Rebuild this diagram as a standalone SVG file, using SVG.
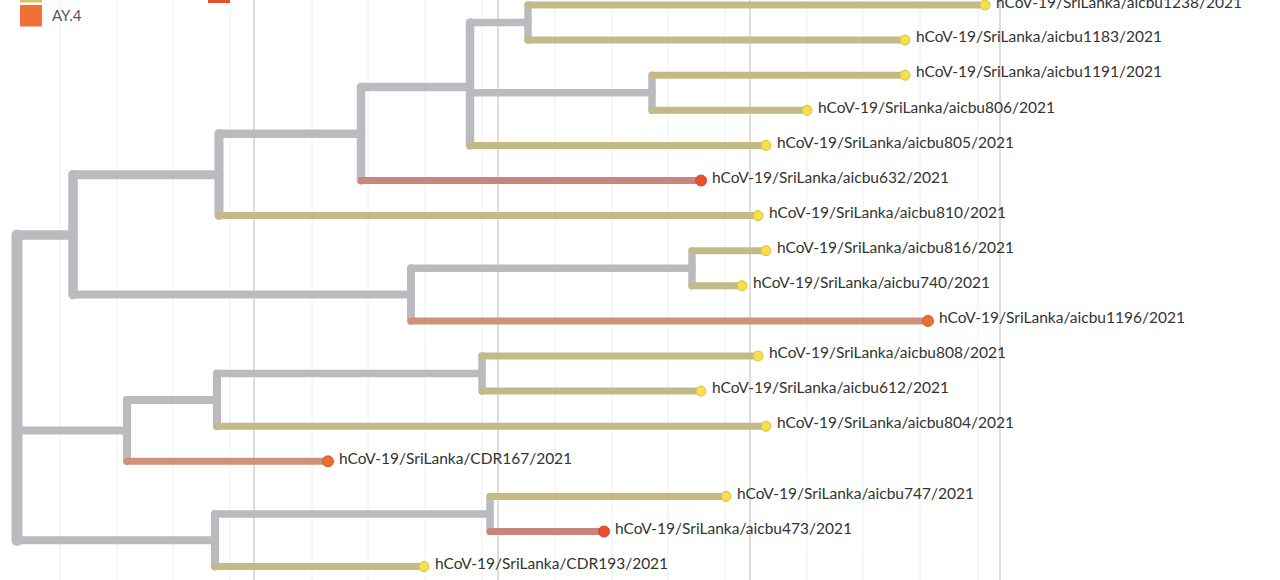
<svg xmlns="http://www.w3.org/2000/svg" width="1280" height="580" viewBox="0 0 1280 580">
<style>
.minor{stroke:#eeeeee;stroke-width:1}
.major{stroke:#dddddd;stroke-width:2}
.br{fill:none;stroke-linecap:round}
.g{stroke:#b9bbbe}
.y{stroke:#c4ba88;stroke-width:7}
.r{stroke:#c9857a;stroke-width:7}
.o{stroke:#cd9278;stroke-width:7}
.ty{fill:#f5df4d;stroke:#d8c13b;stroke-width:1}
.tr{fill:#e8502e;stroke:#cc4529;stroke-width:1}
.to{fill:#ec6d34;stroke:#d05e2c;stroke-width:1}
.lb{font-family:Lato,"Liberation Sans",sans-serif;font-size:15.5px;fill:#333333}
.lg{font-family:Lato,"Liberation Sans",sans-serif;font-size:15px;fill:#555555}
</style>
<rect width="1280" height="580" fill="#ffffff"/>
<g id="grid">
<line class="minor" x1="60" y1="0" x2="60" y2="580"/>
<line class="minor" x1="117" y1="0" x2="117" y2="580"/>
<line class="minor" x1="173" y1="0" x2="173" y2="580"/>
<line class="minor" x1="230" y1="0" x2="230" y2="580"/>
<line class="minor" x1="312" y1="0" x2="312" y2="580"/>
<line class="minor" x1="368" y1="0" x2="368" y2="580"/>
<line class="minor" x1="425" y1="0" x2="425" y2="580"/>
<line class="minor" x1="482" y1="0" x2="482" y2="580"/>
<line class="minor" x1="555" y1="0" x2="555" y2="580"/>
<line class="minor" x1="612" y1="0" x2="612" y2="580"/>
<line class="minor" x1="668" y1="0" x2="668" y2="580"/>
<line class="minor" x1="725" y1="0" x2="725" y2="580"/>
<line class="minor" x1="807" y1="0" x2="807" y2="580"/>
<line class="minor" x1="863" y1="0" x2="863" y2="580"/>
<line class="minor" x1="920" y1="0" x2="920" y2="580"/>
<line class="minor" x1="978" y1="0" x2="978" y2="580"/>
<line class="major" x1="254" y1="0" x2="254" y2="580"/>
<line class="major" x1="498" y1="0" x2="498" y2="580"/>
<line class="major" x1="750" y1="0" x2="750" y2="580"/>
<line class="major" x1="1000" y1="0" x2="1000" y2="580"/>
</g>
<g id="legend">
<rect x="20" y="-20" width="22" height="22.5" fill="#d8c462"/>
<rect x="208" y="-20" width="22" height="23" fill="#e0522f"/>
<rect x="20" y="5" width="22" height="21.5" fill="#f07038"/>
<text class="lg" x="52" y="21">AY.4</text>
</g>
<g id="connectors">
<path class="br g" stroke-width="11" d="M17,235V540.3"/>
<path class="br g" stroke-width="9.5" d="M73,174.7V294.6"/>
<path class="br g" stroke-width="9" d="M219,133.75V215.6"/>
<path class="br g" stroke-width="8.5" d="M361,87V180.5"/>
<path class="br g" stroke-width="8.5" d="M470,22.55V145.4"/>
<path class="br g" stroke-width="7.5" d="M528,5V40.1"/>
<path class="br g" stroke-width="7.5" d="M652,75.2V110.3"/>
<path class="br g" stroke-width="8" d="M411,268.25V320.9"/>
<path class="br g" stroke-width="7.5" d="M692,250.7V285.8"/>
<path class="br g" stroke-width="8" d="M127,399.9V461.3"/>
<path class="br g" stroke-width="8" d="M217,373.55V426.2"/>
<path class="br g" stroke-width="7.5" d="M482,356V391.1"/>
<path class="br g" stroke-width="8" d="M215,513.95V566.6"/>
<path class="br g" stroke-width="7.5" d="M490,496.4V531.5"/>
<path class="br g" stroke-width="9.5" d="M17,235H73"/>
<path class="br g" stroke-width="9" d="M73,174.7H219"/>
<path class="br g" stroke-width="8.5" d="M219,133.75H361"/>
<path class="br g" stroke-width="8.5" d="M361,87H470"/>
<path class="br g" stroke-width="7.5" d="M470,22.55H528"/>
<path class="br g" stroke-width="7.5" d="M470,92.75H652"/>
<path class="br g" stroke-width="8" d="M73,294.6H411"/>
<path class="br g" stroke-width="7.5" d="M411,268.25H692"/>
<path class="br g" stroke-width="8" d="M17,430.6H127"/>
<path class="br g" stroke-width="8" d="M127,399.9H217"/>
<path class="br g" stroke-width="7.5" d="M217,373.55H482"/>
<path class="br g" stroke-width="8" d="M17,540.3H215"/>
<path class="br g" stroke-width="7.5" d="M215,513.95H490"/>
<path class="br y" d="M528,5H985"/>
<path class="br y" d="M528,40.1H905"/>
<path class="br y" d="M652,75.2H905"/>
<path class="br y" d="M652,110.3H807"/>
<path class="br y" d="M470,145.4H766"/>
<path class="br r" d="M361,180.5H701"/>
<path class="br y" d="M219,215.6H758"/>
<path class="br y" d="M692,250.7H766"/>
<path class="br y" d="M692,285.8H742"/>
<path class="br o" d="M411,320.9H928"/>
<path class="br y" d="M482,356H758"/>
<path class="br y" d="M482,391.1H701"/>
<path class="br y" d="M217,426.2H766"/>
<path class="br o" d="M127,461.3H328"/>
<path class="br y" d="M490,496.4H726"/>
<path class="br r" d="M490,531.5H604"/>
<path class="br y" d="M215,566.6H424"/>
</g>
<g id="tip-aicbu1238"><circle class="ty" cx="985" cy="5" r="5"/><text class="lb" x="996" y="7.5">hCoV-19/SriLanka/aicbu1238/2021</text></g>
<g id="tip-aicbu1183"><circle class="ty" cx="905" cy="40.1" r="5"/><text class="lb" x="916" y="42.3">hCoV-19/SriLanka/aicbu1183/2021</text></g>
<g id="tip-aicbu1191"><circle class="ty" cx="905" cy="75.2" r="5"/><text class="lb" x="916" y="77.4">hCoV-19/SriLanka/aicbu1191/2021</text></g>
<g id="tip-aicbu806"><circle class="ty" cx="807" cy="110.3" r="5"/><text class="lb" x="818" y="112.5">hCoV-19/SriLanka/aicbu806/2021</text></g>
<g id="tip-aicbu805"><circle class="ty" cx="766" cy="145.4" r="5"/><text class="lb" x="777" y="147.6">hCoV-19/SriLanka/aicbu805/2021</text></g>
<g id="tip-aicbu632"><circle class="tr" cx="701" cy="180.5" r="5.5"/><text class="lb" x="712" y="182.7">hCoV-19/SriLanka/aicbu632/2021</text></g>
<g id="tip-aicbu810"><circle class="ty" cx="758" cy="215.6" r="5"/><text class="lb" x="769" y="217.8">hCoV-19/SriLanka/aicbu810/2021</text></g>
<g id="tip-aicbu816"><circle class="ty" cx="766" cy="250.7" r="5"/><text class="lb" x="777" y="252.9">hCoV-19/SriLanka/aicbu816/2021</text></g>
<g id="tip-aicbu740"><circle class="ty" cx="742" cy="285.8" r="5"/><text class="lb" x="753" y="288">hCoV-19/SriLanka/aicbu740/2021</text></g>
<g id="tip-aicbu1196"><circle class="to" cx="928" cy="320.9" r="5.5"/><text class="lb" x="939" y="323.1">hCoV-19/SriLanka/aicbu1196/2021</text></g>
<g id="tip-aicbu808"><circle class="ty" cx="758" cy="356" r="5"/><text class="lb" x="769" y="358.2">hCoV-19/SriLanka/aicbu808/2021</text></g>
<g id="tip-aicbu612"><circle class="ty" cx="701" cy="391.1" r="5"/><text class="lb" x="712" y="393.3">hCoV-19/SriLanka/aicbu612/2021</text></g>
<g id="tip-aicbu804"><circle class="ty" cx="766" cy="426.2" r="5"/><text class="lb" x="777" y="428.4">hCoV-19/SriLanka/aicbu804/2021</text></g>
<g id="tip-CDR167"><circle class="to" cx="328" cy="461.3" r="5.5"/><text class="lb" x="339" y="463.5">hCoV-19/SriLanka/CDR167/2021</text></g>
<g id="tip-aicbu747"><circle class="ty" cx="726" cy="496.4" r="5"/><text class="lb" x="737" y="498.6">hCoV-19/SriLanka/aicbu747/2021</text></g>
<g id="tip-aicbu473"><circle class="tr" cx="604" cy="531.5" r="5.5"/><text class="lb" x="615" y="533.7">hCoV-19/SriLanka/aicbu473/2021</text></g>
<g id="tip-CDR193"><circle class="ty" cx="424" cy="566.6" r="5"/><text class="lb" x="435" y="568.8">hCoV-19/SriLanka/CDR193/2021</text></g>
</svg>
